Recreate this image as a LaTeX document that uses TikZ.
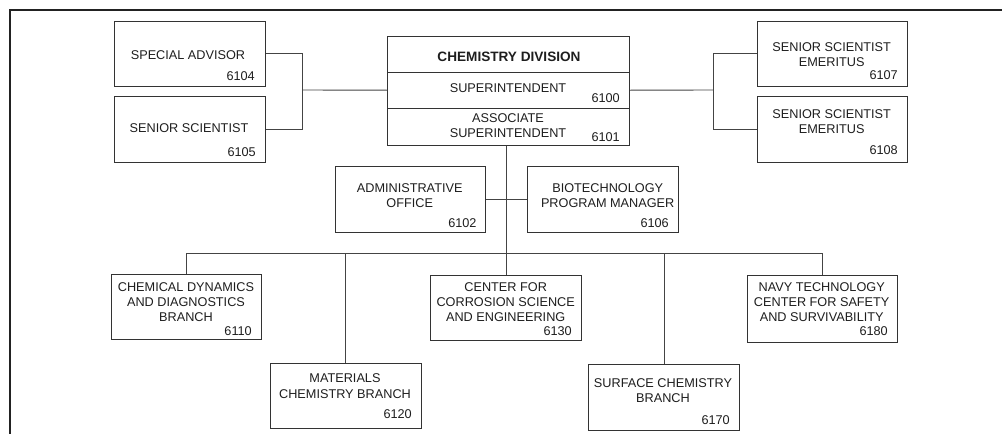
\documentclass[tikz,border=0pt]{standalone}
\usepackage{fontspec}
\setmainfont{Liberation Sans}
\definecolor{boxc}{HTML}{333333}
\definecolor{linec}{HTML}{444444}
\definecolor{txtc}{HTML}{1E1E1E}
\definecolor{framec}{HTML}{222222}
\tikzset{
  orgbox/.style={draw=boxc, line width=0.9pt, inner sep=0pt, anchor=north west},
  txt/.style={font=\fontsize{12.7}{15.3}\selectfont, align=center, inner sep=0pt, text=txtc},
  boldtxt/.style={font=\fontsize{13.6}{15.3}\selectfont\bfseries, inner sep=0pt, text=txtc},
  num/.style={txt, anchor=east},
  conn/.style={draw=linec, line width=0.9pt},
  frame/.style={draw=framec, line width=2.5pt}
}
\begin{document}
\begin{tikzpicture}[x=1pt, y=-1pt]
\useasboundingbox (0,0) rectangle (1002,434);
\draw[frame] (10,436) -- (10,10) -- (1004,10);

% top-left boxes
\node[orgbox, minimum width=150.7pt, minimum height=65.3pt] (sa) at (114.3,20.7) {};
\node[txt] (sat) at (188,55) {SPECIAL ADVISOR};
\node[num] (san) at (255,76.5) {6104};

\node[orgbox, minimum width=150.7pt, minimum height=66.3pt] (ss) at (114.3,96) {};
\node[txt] (sst) at (189,128.5) {SENIOR SCIENTIST};
\node[num] (ssn) at (256,152) {6105};

% chemistry division
\node[orgbox, minimum width=242pt, minimum height=36.3pt] (chemtitle) at (387.3,35.7) {};
\node[orgbox, minimum width=242pt, minimum height=35.5pt] (chemsup) at (387.3,72) {};
\node[orgbox, minimum width=242pt, minimum height=37.5pt] (chemassoc) at (387.3,107.5) {};
\node[boldtxt] (cht) at (509,57) {CHEMISTRY DIVISION};
\node[txt] (supt) at (508,88) {SUPERINTENDENT};
\node[num] (supn) at (620,98) {6100};
\node[txt] (asst) at (508,125.5) {ASSOCIATE\\SUPERINTENDENT};
\node[num] (assn) at (620,137) {6101};

% top-right boxes
\node[orgbox, minimum width=150.3pt, minimum height=65.3pt] (se1) at (756.7,20.7) {};
\node[txt] (se1t) at (831.7,54.5) {SENIOR SCIENTIST\\EMERITUS};
\node[num] (se1n) at (898,75.5) {6107};

\node[orgbox, minimum width=150.3pt, minimum height=66pt] (se2) at (756.7,96.3) {};
\node[txt] (se2t) at (831.7,121.3) {SENIOR SCIENTIST\\EMERITUS};
\node[num] (se2n) at (898,150) {6108};

% staff offices
\node[orgbox, minimum width=150.3pt, minimum height=66pt] (adm) at (335,166.3) {};
\node[txt] (admt) at (409.7,195.5) {ADMINISTRATIVE\\OFFICE};
\node[num] (admn) at (476.7,223.5) {6102};

\node[orgbox, minimum width=150.7pt, minimum height=66pt] (bio) at (527,166.3) {};
\node[txt] (biot) at (607.7,195.5) {BIOTECHNOLOGY\\PROGRAM MANAGER};
\node[num] (bion) at (669,223.5) {6106};

% branches
\node[orgbox, minimum width=150.3pt, minimum height=64.7pt] (cd) at (111,274.3) {};
\node[txt] (cdt) at (186,302.3) {CHEMICAL DYNAMICS\\AND DIAGNOSTICS\\BRANCH};
\node[num] (cdn) at (252,331) {6110};

\node[orgbox, minimum width=150.7pt, minimum height=65pt] (mat) at (270,363.3) {};
\node[txt] (matt) at (345,386) {MATERIALS\\CHEMISTRY BRANCH};
\node[num] (matn) at (412,414.5) {6120};

\node[orgbox, minimum width=150.7pt, minimum height=65.6pt] (cor) at (430.3,274.7) {};
\node[txt] (cort) at (505.7,302.3) {CENTER FOR\\CORROSION SCIENCE\\AND ENGINEERING};
\node[num] (corn) at (572,331) {6130};

\node[orgbox, minimum width=150.4pt, minimum height=65.4pt] (sur) at (588.3,364.3) {};
\node[txt] (surt) at (663,390.5) {SURFACE CHEMISTRY\\BRANCH};
\node[num] (surn) at (730,420) {6170};

\node[orgbox, minimum width=150.3pt, minimum height=67pt] (navy) at (747,274.7) {};
\node[txt] (navyt) at (821.7,302.3) {NAVY TECHNOLOGY\\CENTER FOR SAFETY\\AND SURVIVABILITY};
\node[num] (navyn) at (888,331) {6180};

% connectors
\coordinate (lj) at (302.3,90);
\coordinate (rj) at (713.3,90);
\coordinate (bus) at (0,253);
\draw[conn] (sa.east) -| (lj) |- (ss.east);
\draw[conn] (lj) -- (chemsup.west);
\draw[conn] (se1.west) -| (rj) |- (se2.west);
\draw[conn] (rj) -- (chemsup.east);
\draw[conn] (cor.north |- chemassoc.south) -- (cor.north);
\draw[conn] (adm.east) -- (bio.west);
\draw[conn] (cd.north |- bus) -- (navy.north |- bus);
\draw[conn] (cd.north |- bus) -- (cd.north);
\draw[conn] (mat.north |- bus) -- (mat.north);
\draw[conn] (sur.north |- bus) -- (sur.north);
\draw[conn] (navy.north |- bus) -- (navy.north);
\end{tikzpicture}
\end{document}
